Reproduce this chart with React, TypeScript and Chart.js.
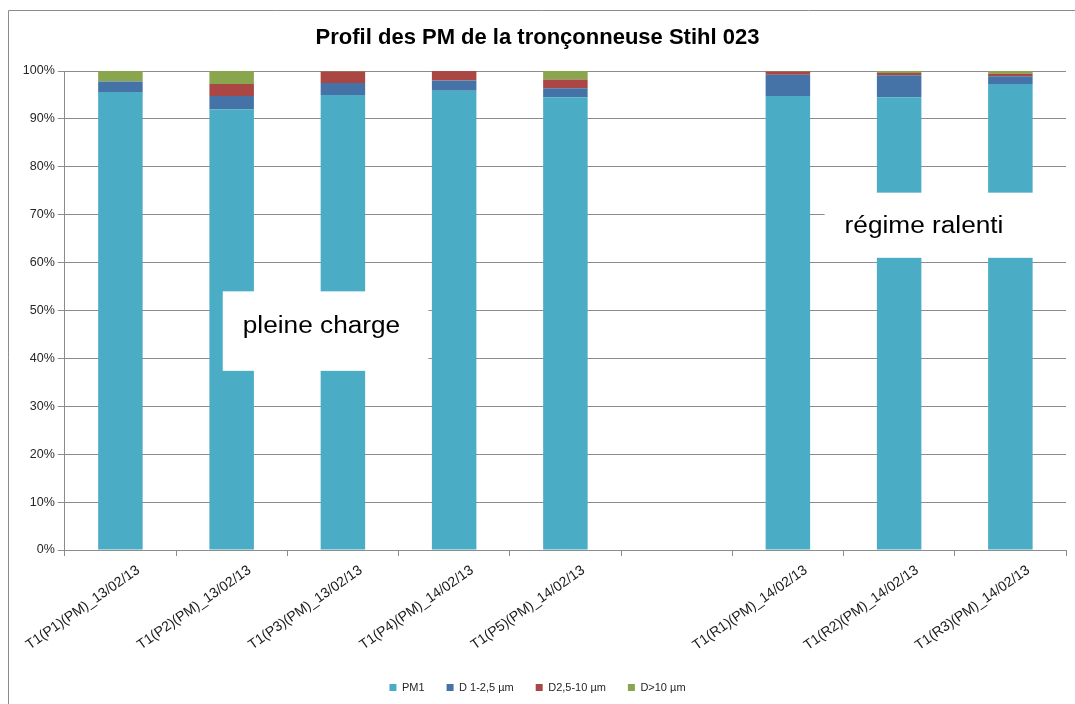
import React, { useEffect, useRef } from "react";
import { Chart, registerables } from "chart.js";

Chart.register(...registerables);

// ---- Data ----
const categories = [
  "T1(P1)(PM)_13/02/13",
  "T1(P2)(PM)_13/02/13",
  "T1(P3)(PM)_13/02/13",
  "T1(P4)(PM)_14/02/13",
  "T1(P5)(PM)_14/02/13",
  "",
  "T1(R1)(PM)_14/02/13",
  "T1(R2)(PM)_14/02/13",
  "T1(R3)(PM)_14/02/13",
];
const seriesNames = ["PM1", "D 1-2,5 µm", "D2,5-10 µm", "D>10 µm"];
const pm1 = [95.6, 92.0, 95.0, 95.9, 94.5, null, 94.8, 94.5, 97.3];
const d1to2_5 = [2.2, 2.8, 2.5, 2.1, 1.9, null, 4.4, 4.6, 1.6];
const d2_5to10 = [0.0, 2.5, 2.4, 2.0, 1.8, null, 0.7, 0.5, 0.5];
const dOver10 = [2.2, 2.7, 0.1, 0.0, 1.8, null, 0.1, 0.4, 0.6];
const seriesColors = ["#4BACC6", "#4572A7", "#AA4643", "#89A54E"];
const yTickValues = [0, 10, 20, 30, 40, 50, 60, 70, 80, 90, 100];

// ---- Text annotations (in category-index / percent units) ----
const noteTexts = ["pleine charge", "régime ralenti"];
const noteXRange = [
  [0.92, 2.75],
  [6.33, 8.5],
];
const noteYRange = [
  [37.4, 54.0],
  [61.0, 74.6],
];
const noteBaseline = [45.3, 66.2];

const FONT = "'Liberation Sans', Arial, sans-serif";
const GRID = "#8c8c8c";

const notesPlugin = {
  id: "notes",
  afterDatasetsDraw(chart: any) {
    const { ctx, scales } = chart;
    const xs = scales.x;
    const ys = scales.y;
    const step = xs.getPixelForValue(1) - xs.getPixelForValue(0);
    const idxToPx = (v: number) => {
      const i = Math.floor(v);
      return xs.getPixelForValue(i) + (v - i) * step;
    };
    ctx.save();
    noteTexts.forEach((t, k) => {
      const x0 = idxToPx(noteXRange[k][0]);
      const x1 = idxToPx(noteXRange[k][1]);
      const yTop = ys.getPixelForValue(noteYRange[k][1]);
      const yBot = ys.getPixelForValue(noteYRange[k][0]);
      ctx.fillStyle = "#ffffff";
      ctx.fillRect(x0, yTop, x1 - x0 + 2, yBot - yTop);
      ctx.save();
      ctx.translate(x0 + 20, ys.getPixelForValue(noteBaseline[k]));
      ctx.scale(1.14, 1);
      ctx.fillStyle = "#000000";
      ctx.font = `23px ${FONT}`;
      ctx.textBaseline = "alphabetic";
      ctx.textAlign = "left";
      ctx.fillText(t, 0, 0);
      ctx.restore();
    });
    ctx.restore();
  },
};

const framePlugin = {
  id: "frame",
  beforeDraw(chart: any) {
    const { ctx, width, height } = chart;
    ctx.save();
    ctx.fillStyle = "#ffffff";
    ctx.fillRect(0, 0, width, height);
    ctx.strokeStyle = GRID;
    ctx.lineWidth = 1;
    ctx.beginPath();
    ctx.moveTo(8.5, height);
    ctx.lineTo(8.5, 10.5);
    ctx.lineTo(width, 10.5);
    ctx.stroke();
    ctx.restore();
  },
};

export default function App() {
  const ref = useRef<HTMLCanvasElement | null>(null);

  useEffect(() => {
    if (!ref.current) return;
    const all = [pm1, d1to2_5, d2_5to10, dOver10];
    const chart = new Chart(ref.current, {
      type: "bar",
      data: {
        labels: categories,
        datasets: all.map((d, i) => ({
          label: seriesNames[i],
          data: d,
          backgroundColor: seriesColors[i],
          borderWidth: 0,
          barPercentage: 0.4,
          categoryPercentage: 1.0,
        })),
      },
      options: {
        responsive: false,
        animation: false,
        events: [],
        layout: { padding: { left: 9, right: 9, top: 0, bottom: 1 } },
        plugins: {
          title: {
            display: true,
            text: "Profil des PM de la tronçonneuse Stihl 023",
            color: "#000000",
            font: { family: FONT, size: 22, weight: "bold" },
            padding: { top: 25, bottom: 19.6 },
          },
          legend: {
            display: true,
            position: "bottom",
            labels: {
              boxWidth: 7,
              boxHeight: 7,
              padding: 22,
              color: "#262626",
              font: { family: FONT, size: 11 },
            },
          },
          tooltip: { enabled: false },
        },
        scales: {
          x: {
            stacked: true,
            grid: {
              offset: true,
              drawOnChartArea: false,
              drawTicks: true,
              tickLength: 6,
              color: GRID,
            },
            border: { display: true, color: GRID },
            ticks: {
              autoSkip: false,
              maxRotation: 35,
              minRotation: 35,
              labelOffset: 18,
              padding: 6,
              color: "#1a1a1a",
              font: { family: FONT, size: 14 },
            },
            afterFit: (s: any) => {
              s.height = 110;
            },
          },
          y: {
            stacked: true,
            min: 0,
            max: 100,
            afterBuildTicks: (s: any) => {
              s.ticks = yTickValues.map((v) => ({ value: v }));
            },
            ticks: {
              callback: (v: any) => `${v}%`,
              color: "#262626",
              font: { family: FONT, size: 12.5 },
              padding: 3,
            },
            grid: { color: GRID, tickLength: 7 },
            border: { display: true, color: GRID },
            afterFit: (s: any) => {
              s.width = 54;
            },
          },
        },
      },
      plugins: [framePlugin, notesPlugin],
    } as any);
    return () => chart.destroy();
  }, []);

  return (
    <div style={{ position: "fixed", left: 0, top: 0, width: 1075, height: 704, background: "#fff" }}>
      <canvas ref={ref} width={1075} height={704} />
    </div>
  );
}
